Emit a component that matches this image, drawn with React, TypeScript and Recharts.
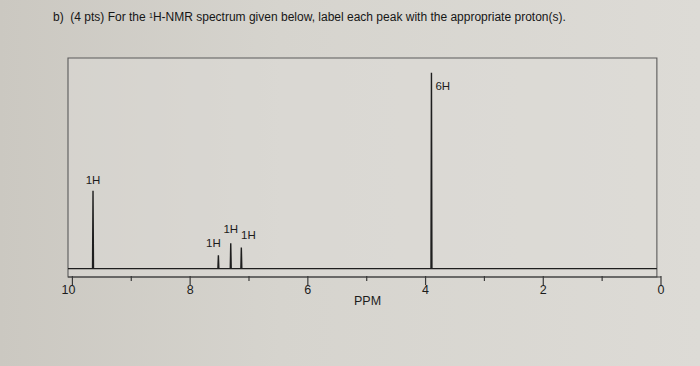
import React from 'react';
import { ComposedChart, Line, XAxis, YAxis, ReferenceArea, ReferenceDot } from 'recharts';

const ppmTicks = [10, 9, 8, 7, 6, 5, 4, 3, 2, 1, 0];
const peakShifts = [9.65, 7.52, 7.31, 7.13, 3.9];
const peakHeights = [37, 6.3, 12, 10, 93];
const peakLabels = ['1H', '1H', '1H', '1H', '6H'];
const axisTitle = 'PPM';
const titleBefore = 'b)  (4 pts) For the ';
const titleSup = '1';
const titleAfter = 'H-NMR spectrum given below, label each peak with the appropriate proton(s).';

const X_MAX = 10.075;
const X_BOX_RIGHT = 0.07;
const Y_MIN = -4;
const Y_MAX = 100;
const PEAK_HALF_WIDTH = 0.008;

// label placement (style only)
const labelPlacement = [
  { dx: 0, dy: -7, anchor: 'middle' },
  { dx: -5, dy: -8, anchor: 'middle' },
  { dx: 0, dy: -10, anchor: 'middle' },
  { dx: 7, dy: -9, anchor: 'middle' },
  { dx: 4, dy: 17, anchor: 'start' },
];

const spectrum = (() => {
  const pts: { ppm: number; y: number }[] = [{ ppm: X_MAX, y: 0 }];
  peakShifts.forEach((p, i) => {
    pts.push({ ppm: p + PEAK_HALF_WIDTH, y: 0 });
    pts.push({ ppm: p, y: peakHeights[i] });
    pts.push({ ppm: p - PEAK_HALF_WIDTH, y: 0 });
  });
  pts.push({ ppm: X_BOX_RIGHT, y: 0 });
  return pts.sort((a, b) => b.ppm - a.ppm);
})();

const FONT = '"Liberation Sans", Arial, Helvetica, sans-serif';
const INK = '#1c1c1c';

const PpmTick = (props: any) => {
  const { x, y, payload } = props;
  const v = payload.value as number;
  const major = v % 2 === 0;
  return (
    <g>
      <line x1={x} y1={y - 1} x2={x} y2={y + (major ? 8 : 4)} stroke="#3a3a3a" strokeWidth={1.2} />
      {major && (
        <text x={x - (v === 10 ? 4 : 0)} y={y + 17} textAnchor="middle" fontFamily={FONT} fontSize={12.5} fill={INK}>
          {String(v)}
        </text>
      )}
    </g>
  );
};

export default function App() {
  return (
    <div
      style={{
        position: 'fixed',
        left: 0,
        top: 0,
        width: 700,
        height: 366,
        background: 'linear-gradient(90deg, #cbc8c1 0%, #d6d4ce 40%, #dddbd6 100%)',
        overflow: 'hidden',
      }}
    >
      <div
        style={{
          position: 'absolute',
          left: 53,
          top: 10,
          fontFamily: FONT,
          fontSize: 12,
          color: '#161616',
          whiteSpace: 'pre',
          lineHeight: '14px',
        }}
      >
        {titleBefore}
        <sup style={{ fontSize: 7, verticalAlign: 'top', position: 'relative', top: -1 }}>{titleSup}</sup>
        {titleAfter}
      </div>
      <div style={{ position: 'absolute', left: 0, top: 0 }}>
        <ComposedChart
          width={700}
          height={366}
          data={spectrum}
          margin={{ top: 58, right: 39, bottom: 59, left: 68 }}
        >
          <ReferenceArea
            x1={X_MAX}
            x2={X_BOX_RIGHT}
            y1={Y_MIN}
            y2={Y_MAX}
            fill="#dedcd7"
            fillOpacity={0.5}
            stroke="#5a5a5a"
            strokeWidth={1.1}
          />
          <XAxis
            dataKey="ppm"
            type="number"
            domain={[0, X_MAX]}
            reversed
            allowDataOverflow
            ticks={ppmTicks}
            interval={0}
            tickSize={0}
            tickMargin={0}
            tickLine={false}
            axisLine={{ stroke: '#3a3a3a', strokeWidth: 1.2 }}
            tick={<PpmTick />}
            height={30}
            label={{
              content: (p: any) => {
                const vb = p.viewBox || { x: 68, y: 277, width: 593 };
                return (
                  <text
                    x={vb.x + vb.width / 2 + 3}
                    y={vb.y + 28}
                    textAnchor="middle"
                    fontFamily={FONT}
                    fontSize={12.5}
                    fill={INK}
                  >
                    {axisTitle}
                  </text>
                );
              },
            }}
          />
          <YAxis type="number" domain={[Y_MIN, Y_MAX]} hide allowDataOverflow />
          <Line
            type="linear"
            dataKey="y"
            stroke="#1e1e1e"
            strokeWidth={1.4}
            dot={false}
            activeDot={false}
            isAnimationActive={false}
          />
          {peakShifts.map((p, i) => (
            <ReferenceDot
              key={i}
              x={p}
              y={peakHeights[i]}
              r={0}
              fill="none"
              stroke="none"
              label={{
                content: (lp: any) => {
                  const vb = lp.viewBox || { x: 0, y: 0 };
                  const pl = labelPlacement[i];
                  return (
                    <text
                      x={vb.x + pl.dx}
                      y={vb.y + pl.dy}
                      textAnchor={pl.anchor as any}
                      fontFamily={FONT}
                      fontSize={11.5}
                      fill={INK}
                    >
                      {peakLabels[i]}
                    </text>
                  );
                },
              }}
            />
          ))}
        </ComposedChart>
      </div>
    </div>
  );
}
